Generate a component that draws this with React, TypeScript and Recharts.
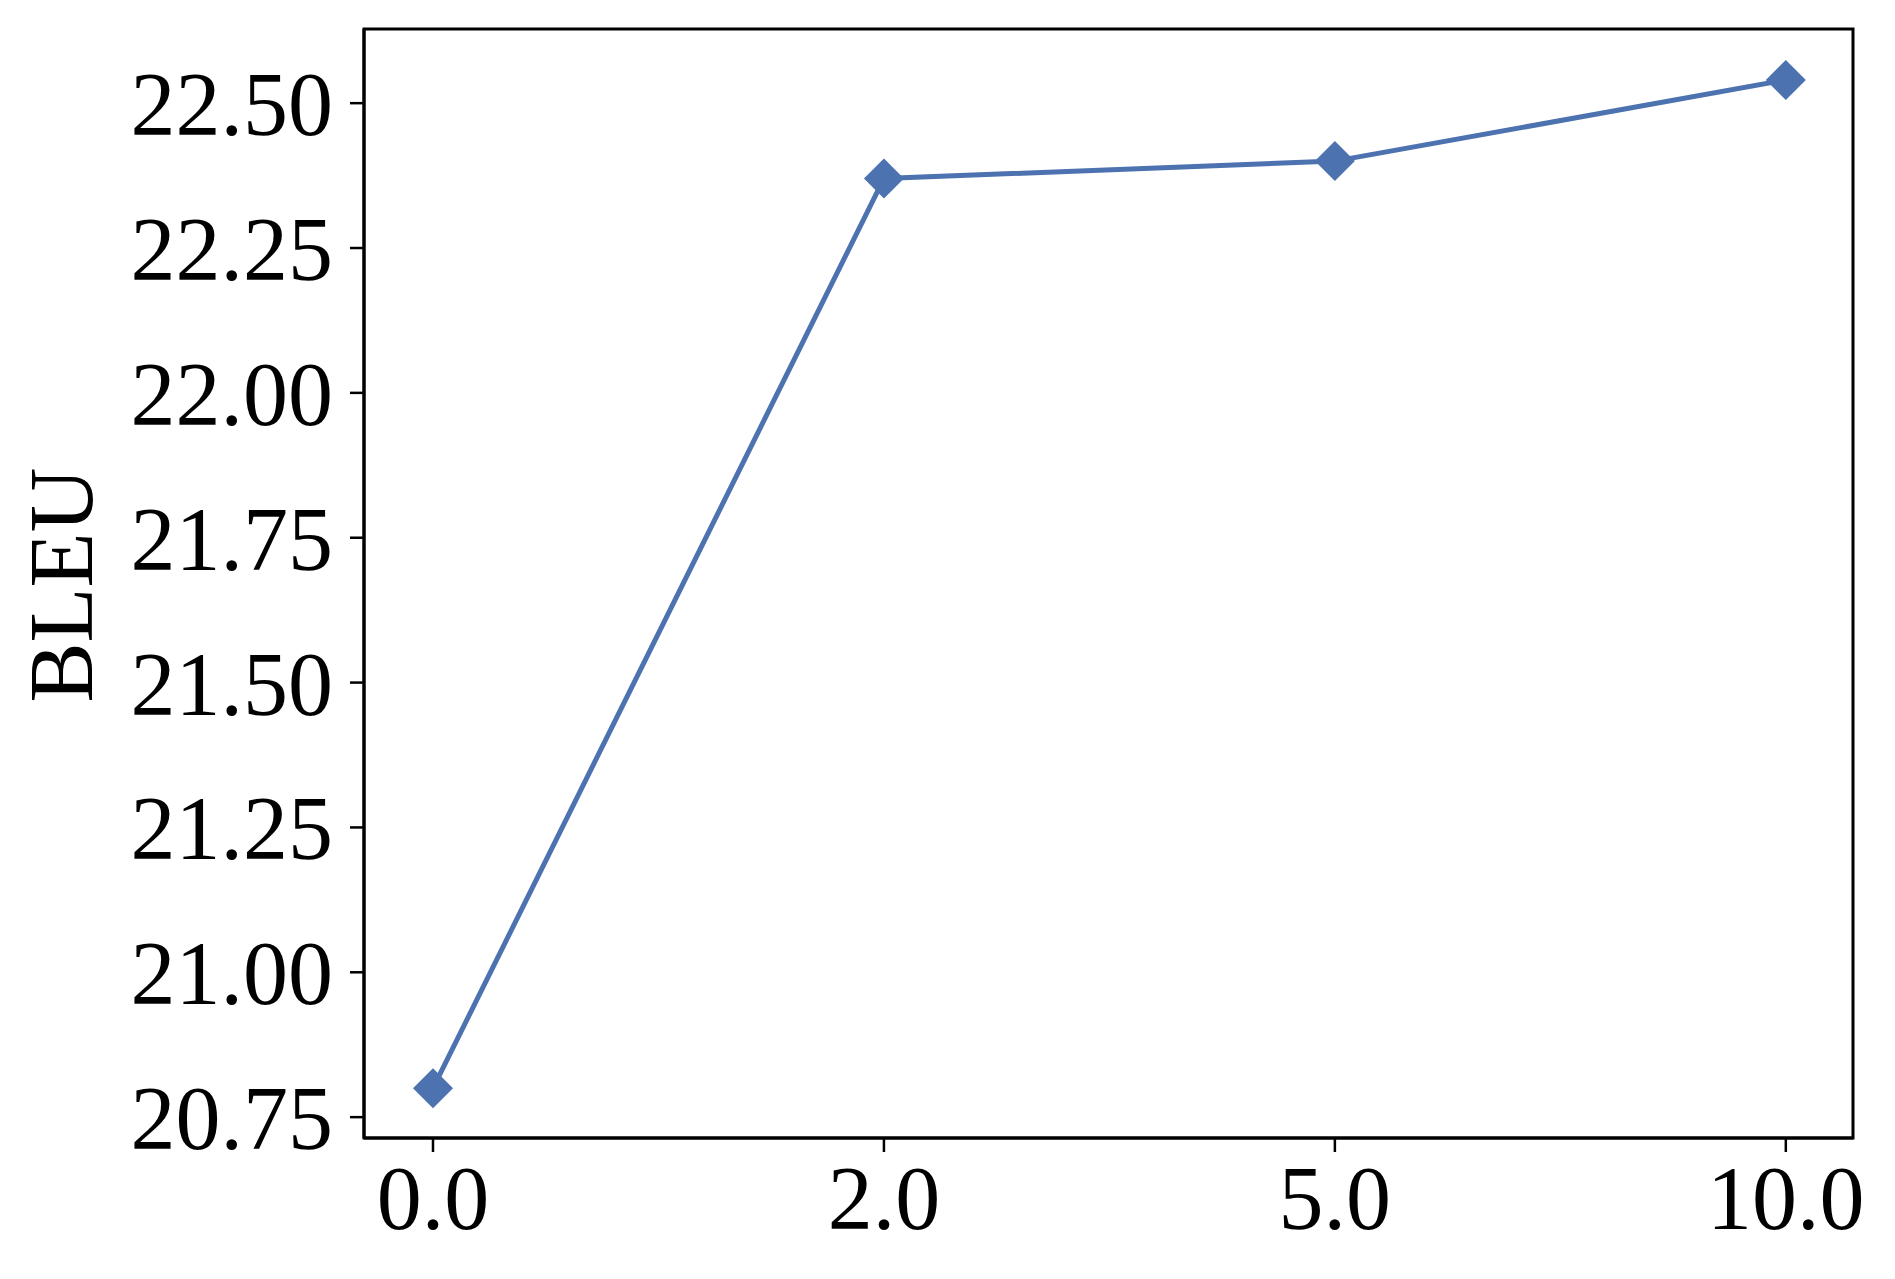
import React from "react";
import { Line, LineChart, ReferenceArea, XAxis, YAxis } from "recharts";

const weights = ["0.0", "2.0", "5.0", "10.0"];
const bleu = [20.8, 22.37, 22.4, 22.54];
const yTicks = [20.75, 21.0, 21.25, 21.5, 21.75, 22.0, 22.25, 22.5];
const yDomain = [20.714, 22.628];
const xDomain = [-0.153, 3.149];

const BLUE = "#4C72B0";
const FONT = "'Liberation Serif', 'Times New Roman', serif";

const data = weights.map((w, i) => ({ idx: i, weight: w, bleu: bleu[i] }));

const Diamond = (props: any) => {
  const { cx, cy } = props;
  if (cx == null || cy == null) return null;
  const r = 20;
  return (
    <path
      d={`M${cx},${cy - r}L${cx + r},${cy}L${cx},${cy + r}L${cx - r},${cy}Z`}
      fill={BLUE}
    />
  );
};

const YTitle = () => (
  <text
    x={92}
    y={585}
    transform="rotate(-90, 92, 585)"
    textAnchor="middle"
    fontFamily={FONT}
    fontSize={90}
    fill="#000"
  >
    BLEU
  </text>
);

export default function App() {
  const tickStyle = { fontFamily: FONT, fontSize: 90, fill: "#000" };
  return (
    <div style={{ position: "absolute", left: 0, top: 0, background: "#fff" }}>
      <LineChart
        width={1895}
        height={1279}
        data={data}
        margin={{ top: 29, right: 42, left: 0, bottom: 0 }}
      >
        <XAxis
          dataKey="idx"
          type="number"
          domain={xDomain}
          allowDataOverflow
          ticks={[0, 1, 2, 3]}
          interval={0}
          tickFormatter={(i: number) => weights[i]}
          height={141}
          tick={tickStyle}
          tickSize={14}
          tickMargin={13}
          axisLine={{ stroke: "#000", strokeWidth: 3 }}
          tickLine={{ stroke: "#000", strokeWidth: 2.5 }}
        />
        <YAxis
          type="number"
          domain={yDomain}
          allowDataOverflow
          ticks={yTicks}
          interval={0}
          tickFormatter={(v: number) => v.toFixed(2)}
          width={364}
          tick={tickStyle}
          tickSize={14}
          tickMargin={17}
          axisLine={{ stroke: "#000", strokeWidth: 3 }}
          tickLine={{ stroke: "#000", strokeWidth: 2.5 }}
          label={<YTitle />}
        />
        <ReferenceArea
          x1={xDomain[0]}
          x2={xDomain[1]}
          y1={yDomain[0]}
          y2={yDomain[1]}
          fill="none"
          fillOpacity={0}
          stroke="#000"
          strokeWidth={3}
          ifOverflow="visible"
        />
        <Line
          dataKey="bleu"
          stroke={BLUE}
          strokeWidth={5}
          dot={<Diamond />}
          activeDot={false}
          isAnimationActive={false}
        />
      </LineChart>
    </div>
  );
}
